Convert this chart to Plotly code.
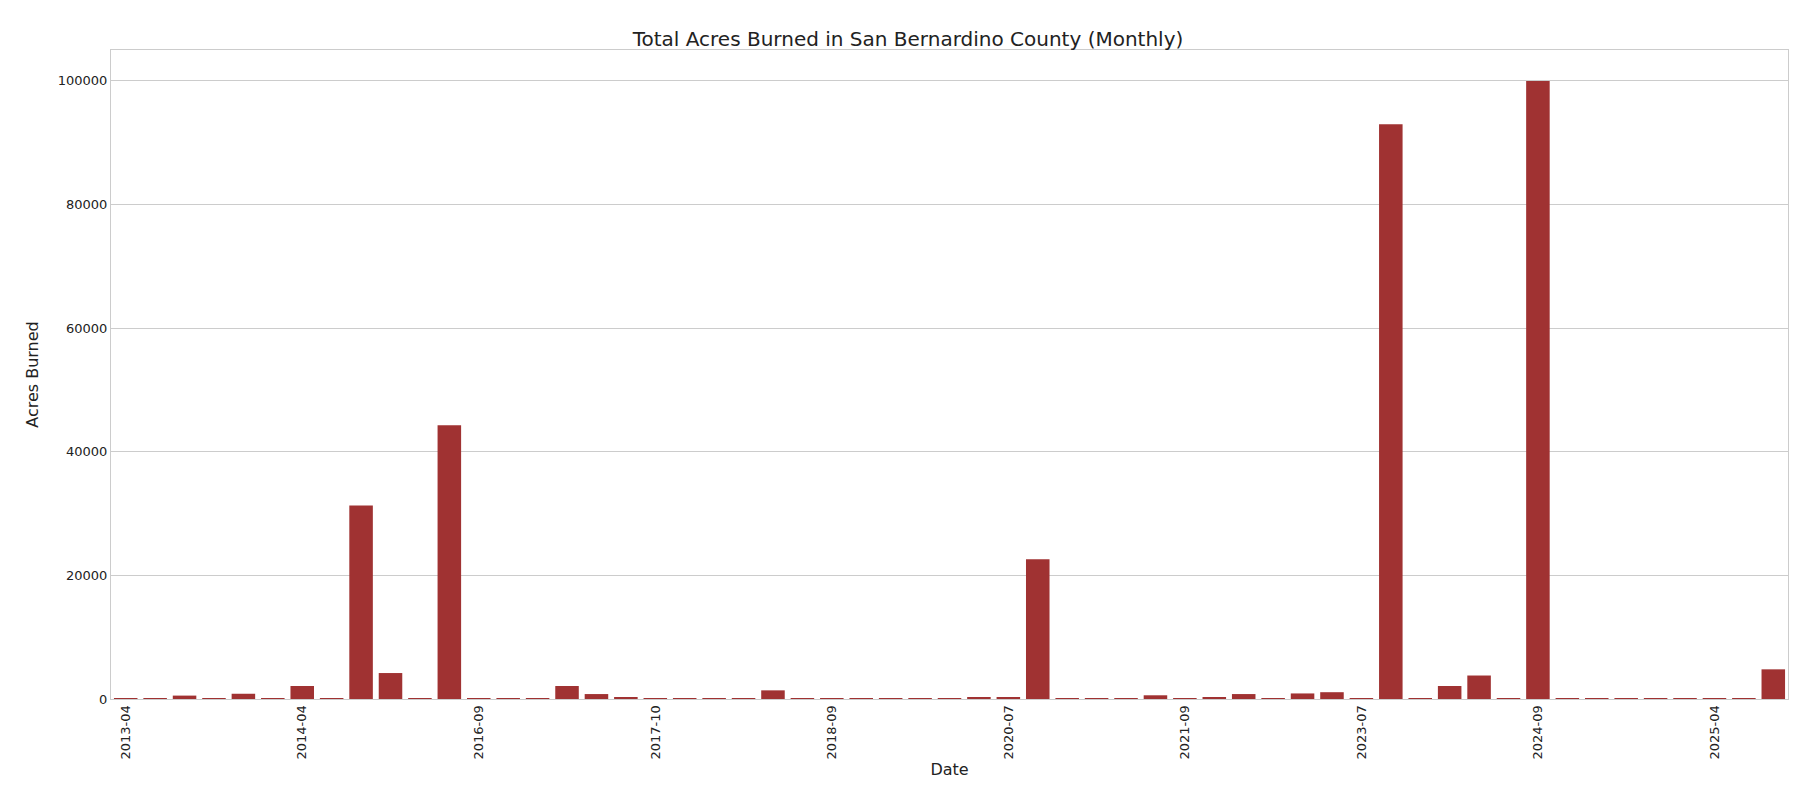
import plotly.graph_objs as go

months = ['2013-04', '2013-05', '2013-06', '2013-07', '2013-08', '2013-10',
          '2014-04', '2014-05', '2015-06', '2015-07', '2016-06', '2016-08',
          '2016-09', '2016-10', '2017-04', '2017-06', '2017-07', '2017-09',
          '2017-10', '2017-12', '2018-05', '2018-06', '2018-07', '2018-08',
          '2018-09', '2019-04', '2019-06', '2019-07', '2019-10', '2020-05',
          '2020-07', '2020-09', '2020-10', '2021-04', '2021-06', '2021-07',
          '2021-09', '2021-10', '2022-06', '2022-07', '2022-08', '2022-09',
          '2023-07', '2023-08', '2023-10', '2024-05', '2024-06', '2024-07',
          '2024-09', '2024-10', '2024-11', '2025-01', '2025-02', '2025-03',
          '2025-04', '2025-05', '2025-06']
acres = [5, 3, 550, 8, 850, 5,
         2100, 6, 31300, 4200, 5, 44300,
         8, 5, 5, 2100, 800, 300,
         5, 10, 5, 3, 1400, 5,
         5, 3, 5, 10, 3, 300,
         300, 22600, 15, 3, 5, 600,
         5, 300, 800, 5, 900, 1100,
         5, 93000, 5, 2100, 3800, 5,
         100000, 10, 5, 5, 3, 3,
         5, 5, 4800]
tick_labels = months[::6]

fig = go.Figure(go.Bar(x=months, y=acres, marker_color='#A03232',
                       marker_line_width=0, width=0.8))
fig.update_layout(
    title=dict(text='Total Acres Burned in San Bernardino County (Monthly)',
               x=0.5, y=0.97, font=dict(size=20, color='#222')),
    font=dict(family='DejaVu Sans, Arial', size=13, color='#222'),
    plot_bgcolor='white', paper_bgcolor='white',
    margin=dict(l=103, r=20, t=42, b=109),
    width=1800, height=800, showlegend=False,
    xaxis=dict(title=dict(text='Date', standoff=5), type='category', tickmode='array',
               tickvals=tick_labels, ticktext=tick_labels, tickangle=-90,
               showgrid=False, showline=True, linecolor='#ccc', mirror=True,
               range=[-0.5, len(months) - 0.5]),
    yaxis=dict(title='Acres Burned', range=[0, 105000], tickvals=[0, 20000, 40000, 60000, 80000, 100000],
               tickformat='d', showgrid=True, gridcolor='#ccc',
               showline=True, linecolor='#ccc', mirror=True, zeroline=False),
)
fig.write_html("out.html")
